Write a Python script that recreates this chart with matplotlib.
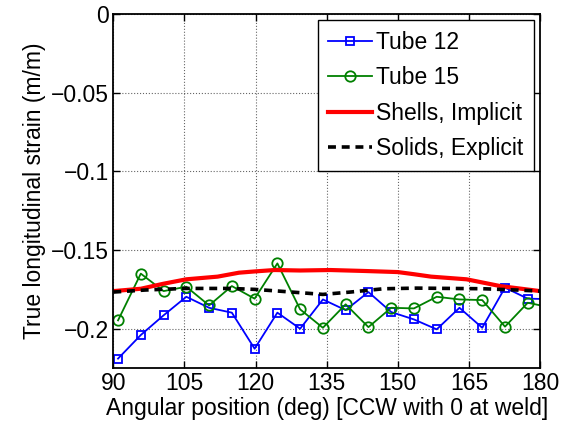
import numpy as np
import matplotlib.pyplot as plt

plt.rcParams['font.family'] = ['Liberation Sans', 'DejaVu Sans']

# measured points (deg)
ang = [91.0, 95.8, 100.6, 105.4, 110.2, 115.0, 119.8, 124.6, 129.4, 134.2,
       139.0, 143.8, 148.6, 153.4, 158.2, 163.0, 167.8, 172.6, 177.4, 182.2]
tube12 = [-0.219, -0.204, -0.1915, -0.1797, -0.1867, -0.1898, -0.2127, -0.1898, -0.2000, -0.1814,
          -0.1882, -0.1767, -0.1894, -0.1941, -0.2004, -0.1867, -0.1994, -0.1739, -0.1809, -0.1812]
tube15 = [-0.1947, -0.1650, -0.1761, -0.1733, -0.1852, -0.1729, -0.1809, -0.1585, -0.1877, -0.1994,
          -0.1845, -0.1990, -0.1867, -0.1871, -0.1797, -0.1814, -0.1818, -0.1987, -0.1835, -0.1865]

# simulation curves
ang_sh = [90, 95.8, 100.6, 105.4, 112, 116.5, 119.8, 124, 129.4, 135.8, 142.9, 150, 153.5, 157, 164.5, 171.6, 180]
shells = [-0.1761, -0.1746, -0.1714, -0.1686, -0.1669, -0.1644, -0.1636, -0.1627, -0.1630, -0.1627,
          -0.1633, -0.1640, -0.1654, -0.1669, -0.1686, -0.1729, -0.1761]
ang_so = [90, 96.8, 105, 114.7, 119.8, 124.9, 129.4, 134.2, 140, 147, 154, 161, 168, 175, 180]
solids = [-0.1767, -0.1754, -0.1744, -0.1744, -0.1750, -0.1761, -0.1771, -0.1782, -0.1767, -0.1746,
          -0.1742, -0.1744, -0.1746, -0.1754, -0.1761]

fs = 16.5

fig = plt.figure(figsize=(5.62, 4.25), dpi=100)
ax = fig.add_axes([0.2016, 0.134, 0.7594, 0.833])

ax.plot(ang, tube12, '-s', color='b', lw=1.3, ms=6, mfc='none', mew=1.3, label='Tube 12')
ax.plot(ang, tube15, '-o', color=(0, 0.5, 0), lw=1.3, ms=7.5, mfc='none', mew=1.3, label='Tube 15')
ax.plot(ang_sh, shells, '-', color='r', lw=3, label='Shells, Implicit')
ax.plot(ang_so, solids, '--', color='k', lw=2.6, dashes=(2.2, 1.6), label='Solids, Explicit')

ax.set_xlim(90, 180)
ax.set_ylim(-0.225, 0)
ax.set_xticks([90, 105, 120, 135, 150, 165, 180])
ax.set_yticks([0, -0.05, -0.1, -0.15, -0.2])
ax.set_yticklabels(['0', '\u22120.05', '\u22120.1', '\u22120.15', '\u22120.2'])
ax.tick_params(direction='in', top=True, right=True, labelsize=fs, length=5, width=1, pad=3)
ax.grid(True, linestyle=':', color='k', lw=0.8, alpha=0.6)
for s in ax.spines.values():
    s.set_linewidth(1.3)

ax.set_xlabel('Angular position (deg) [CCW with 0 at weld]', fontsize=fs, labelpad=1)
ax.set_ylabel('True longitudinal strain (m/m)', fontsize=fs, labelpad=4)

leg = ax.legend(loc='upper right', fontsize=fs, fancybox=False, framealpha=1,
                edgecolor='k', handlelength=1.9, borderaxespad=0.27, borderpad=0.45,
                labelspacing=0.55, handletextpad=0.2)
leg.get_frame().set_linewidth(1)

fig.savefig('out.png', dpi=100)
